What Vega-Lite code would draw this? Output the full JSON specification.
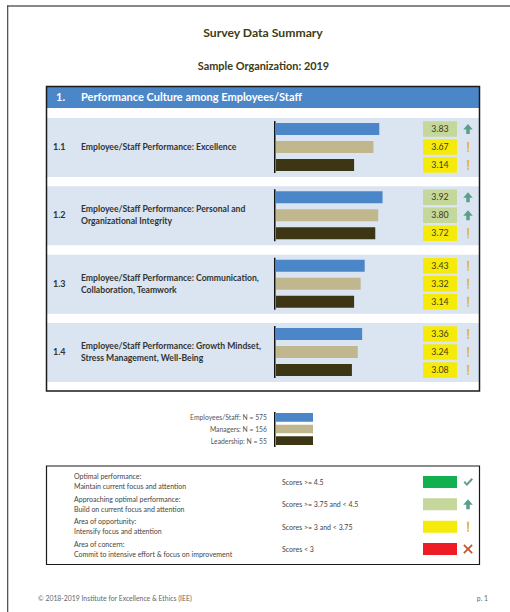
{
"$schema":"https://vega.github.io/schema/vega-lite/v6.json",
"width":510,"height":612,"padding":0,
"autosize":{"type":"fit","contains":"padding"},
"background":"white",
"config":{"view":{"stroke":null},"font":"Lato","axis":{"disable":true},"legend":{"disable":true}},
"datasets":{
"page":[{"page":"Survey Data Summary","org":"Sample Organization: 2019","section":"1.","sectionTitle":"Performance Culture among Employees/Staff","copy":"© 2018-2019 Institute for Excellence & Ethics (IEE)","pageNo":"p. 1"}],
"items":[
{"item":"1.1","label":"Employee/Staff Performance: Excellence","lines":1},
{"item":"1.2","label":"Employee/Staff Performance: Personal and\nOrganizational Integrity","lines":2},
{"item":"1.3","label":"Employee/Staff Performance: Communication,\nCollaboration, Teamwork","lines":2},
{"item":"1.4","label":"Employee/Staff Performance: Growth Mindset,\nStress Management, Well-Being","lines":2}],
"scores":[
{"item":"1.1","group":"Employees/Staff","score":3.83,"tier":"Approaching"},
{"item":"1.1","group":"Managers","score":3.67,"tier":"Opportunity"},
{"item":"1.1","group":"Leadership","score":3.14,"tier":"Opportunity"},
{"item":"1.2","group":"Employees/Staff","score":3.92,"tier":"Approaching"},
{"item":"1.2","group":"Managers","score":3.80,"tier":"Approaching"},
{"item":"1.2","group":"Leadership","score":3.72,"tier":"Opportunity"},
{"item":"1.3","group":"Employees/Staff","score":3.43,"tier":"Opportunity"},
{"item":"1.3","group":"Managers","score":3.32,"tier":"Opportunity"},
{"item":"1.3","group":"Leadership","score":3.14,"tier":"Opportunity"},
{"item":"1.4","group":"Employees/Staff","score":3.36,"tier":"Opportunity"},
{"item":"1.4","group":"Managers","score":3.24,"tier":"Opportunity"},
{"item":"1.4","group":"Leadership","score":3.08,"tier":"Opportunity"}],
"groups":[
{"group":"Employees/Staff","label":"Employees/Staff: N = 575"},
{"group":"Managers","label":"Managers: N = 156"},
{"group":"Leadership","label":"Leadership: N = 55"}],
"key":[
{"tier":"Optimal","text":"Optimal performance:\nMaintain current focus and attention","range":"Scores >= 4.5"},
{"tier":"Approaching","text":"Approaching optimal performance:\nBuild on current focus and attention","range":"Scores >= 3.75 and < 4.5"},
{"tier":"Opportunity","text":"Area of opportunity:\nIntensify focus and attention","range":"Scores >= 3 and < 3.75"},
{"tier":"Concern","text":"Area of concern:\nCommit to intensive effort & focus on improvement","range":"Scores < 3"}]
},
"resolve":{"scale":{"x":"independent","y":"independent","color":"independent","shape":"independent","yOffset":"independent"}},
"layer":[
{"data":{"name":"page"},"mark":{"type":"rect","color":"#888888"},
 "encoding":{"x":{"datum":"edge","type":"nominal","scale":{"type":"band","paddingInner":0,"paddingOuter":0,"range":[7,510]}},"y":{"datum":"edge","type":"nominal","scale":{"type":"band","paddingInner":0,"paddingOuter":0,"range":[5,7]}}}},
{"data":{"name":"page"},"mark":{"type":"rect","color":"#555555"},
 "encoding":{"x":{"datum":"edge","type":"nominal","scale":{"type":"band","paddingInner":0,"paddingOuter":0,"range":[7,8.3]}},"y":{"datum":"edge","type":"nominal","scale":{"type":"band","paddingInner":0,"paddingOuter":0,"range":[5.5,612]}}}},
{"data":{"name":"page"},"mark":{"type":"text","align":"center","baseline":"middle","fontWeight":"bold","fontSize":12.2,"color":"#3d3a14"},
 "encoding":{"text":{"field":"page"},"x":{"datum":"title","type":"nominal","scale":{"type":"point","range":[263,263]}},"y":{"datum":"title","type":"nominal","scale":{"type":"point","range":[33,33]}}}},
{"data":{"name":"page"},"mark":{"type":"text","align":"center","baseline":"middle","fontWeight":"bold","fontSize":10.9,"color":"#3d3a14"},
 "encoding":{"text":{"field":"org"},"x":{"datum":"org","type":"nominal","scale":{"type":"point","range":[263.5,263.5]}},"y":{"datum":"org","type":"nominal","scale":{"type":"point","range":[67,67]}}}},
{"data":{"name":"page"},"mark":{"type":"rect","color":"#4a86c8"},
 "encoding":{"x":{"datum":"header","type":"nominal","scale":{"type":"band","paddingInner":0,"paddingOuter":0,"range":[46.5,479.5]}},"y":{"datum":"header","type":"nominal","scale":{"type":"band","paddingInner":0,"paddingOuter":0,"range":[87,108]}}}},
{"data":{"name":"page"},"mark":{"type":"text","align":"left","baseline":"middle","fontWeight":"bold","fontSize":11,"color":"white"},
 "encoding":{"text":{"field":"section"},"x":{"datum":"n","type":"nominal","scale":{"type":"point","range":[56,56]}},"y":{"datum":"n","type":"nominal","scale":{"type":"point","range":[97.5,97.5]}}}},
{"data":{"name":"page"},"mark":{"type":"text","align":"left","baseline":"middle","fontWeight":"bold","fontSize":11,"color":"white"},
 "encoding":{"text":{"field":"sectionTitle"},"x":{"datum":"n","type":"nominal","scale":{"type":"point","range":[81,81]}},"y":{"datum":"n","type":"nominal","scale":{"type":"point","range":[97.5,97.5]}}}},
{"data":{"name":"items"},"mark":{"type":"rect","color":"#dae5f1"},
 "encoding":{"x":{"datum":"panel","type":"nominal","scale":{"type":"band","paddingInner":0,"paddingOuter":0,"range":[46.5,479.5]}},"y":{"field":"item","type":"nominal","scale":{"type":"band","paddingInner":0.136,"paddingOuter":0,"range":[118,382]}}}},
{"data":{"name":"page"},"mark":{"type":"rect","fillOpacity":0,"stroke":"#1a1a1a","strokeWidth":1.5},
 "encoding":{"x":{"datum":"frame","type":"nominal","scale":{"type":"band","paddingInner":0,"paddingOuter":0,"range":[46.5,479.5]}},"y":{"datum":"frame","type":"nominal","scale":{"type":"band","paddingInner":0,"paddingOuter":0,"range":[86.5,391]}}}},
{"data":{"name":"items"},"mark":{"type":"rect","color":"#111111"},
 "encoding":{"x":{"datum":"axis","type":"nominal","scale":{"type":"band","paddingInner":0,"paddingOuter":0,"range":[274,275.5]}},"y":{"field":"item","type":"nominal","scale":{"type":"band","paddingInner":0.24,"paddingOuter":0,"range":[121,378]}}}},
{"data":{"name":"scores"},"mark":{"type":"bar","height":12},
 "encoding":{"x":{"field":"score","type":"quantitative","scale":{"domain":[1,5],"range":[276,422],"nice":false,"zero":false}},"x2":{"datum":1},
 "y":{"field":"item","type":"nominal","scale":{"type":"band","paddingInner":0.21,"paddingOuter":0,"range":[120,379]}},
 "yOffset":{"field":"group","type":"nominal","scale":{"domain":["Employees/Staff","Managers","Leadership"],"paddingInner":0,"paddingOuter":0}},
 "color":{"field":"group","type":"nominal","scale":{"domain":["Employees/Staff","Managers","Leadership"],"range":["#4a86c8","#c0b78f","#3c3614"]}}}},
{"data":{"name":"scores"},"mark":{"type":"rect","height":15.5},
 "encoding":{"x":{"datum":"box","type":"nominal","scale":{"type":"band","paddingInner":0,"paddingOuter":0,"range":[423,457]}},
 "y":{"field":"item","type":"nominal","scale":{"type":"band","paddingInner":0.21,"paddingOuter":0,"range":[120,379]}},
 "yOffset":{"field":"group","type":"nominal","scale":{"domain":["Employees/Staff","Managers","Leadership"],"paddingInner":0,"paddingOuter":0}},
 "color":{"field":"tier","type":"nominal","scale":{"domain":["Optimal","Approaching","Opportunity","Concern"],"range":["#12b04f","#c5d79a","#f5ea0a","#ee1c25"]}}}},
{"data":{"name":"scores"},"mark":{"type":"text","align":"center","baseline":"middle","fontSize":8.8,"fontWeight":"normal","color":"#3d3d14"},
 "encoding":{"text":{"field":"score","type":"quantitative","format":".2f"},"x":{"datum":"t","type":"nominal","scale":{"type":"point","range":[440,440]}},
 "y":{"field":"item","type":"nominal","scale":{"type":"band","paddingInner":0.21,"paddingOuter":0,"range":[120,379]}},
 "yOffset":{"field":"group","type":"nominal","scale":{"domain":["Employees/Staff","Managers","Leadership"],"type":"band","paddingInner":0,"paddingOuter":0}}}},
{"data":{"name":"scores"},"mark":{"type":"point","filled":true,"size":100,"opacity":1},
 "encoding":{"x":{"datum":"i","type":"nominal","scale":{"type":"point","range":[468,468]}},
 "y":{"field":"item","type":"nominal","scale":{"type":"band","paddingInner":0.21,"paddingOuter":0,"range":[120,379]}},
 "yOffset":{"field":"group","type":"nominal","scale":{"domain":["Employees/Staff","Managers","Leadership"],"type":"band","paddingInner":0,"paddingOuter":0}},
 "shape":{"field":"tier","type":"nominal","scale":{"domain":["Optimal","Approaching","Opportunity","Concern"],"range":["M-0.9,0.1L-0.6,-0.2L-0.25,0.25L0.7,-0.8L1,-0.5L-0.2,0.8Z","M0,-1L0.95,0.1L0.35,0.1L0.35,1L-0.35,1L-0.35,0.1L-0.95,0.1Z","M-0.24,-1H0.24L0.16,0.5H-0.16Z M-0.18,0.62H0.18V1H-0.18Z","M-0.95,-0.7L-0.7,-0.95L0,-0.25L0.7,-0.95L0.95,-0.7L0.25,0L0.95,0.7L0.7,0.95L0,0.25L-0.7,0.95L-0.95,0.7L-0.25,0Z"]}},
 "color":{"field":"tier","type":"nominal","scale":{"domain":["Optimal","Approaching","Opportunity","Concern"],"range":["#5f9f85","#5a9f8a","#dfb86e","#c4552f"]}}}},
{"data":{"name":"items"},"mark":{"type":"text","align":"left","baseline":"middle","fontSize":9,"fontWeight":"bold","color":"#333333"},
 "encoding":{"text":{"field":"item"},"x":{"datum":"c","type":"nominal","scale":{"type":"point","range":[53,53]}},"y":{"field":"item","type":"nominal","scale":{"type":"band","paddingInner":0.21,"paddingOuter":0,"range":[120,379]}}}},
{"data":{"name":"items"},"transform":[{"filter":"datum.lines == 1"}],"mark":{"type":"text","align":"left","baseline":"middle","fontSize":8.65,"fontWeight":"bold","color":"#333333"},
 "encoding":{"text":{"field":"label"},"x":{"datum":"c","type":"nominal","scale":{"type":"point","range":[81,81]}},"y":{"field":"item","type":"nominal","scale":{"domain":["1.1","1.2","1.3","1.4"],"type":"band","paddingInner":0.21,"paddingOuter":0,"range":[120,379]}}}},
{"data":{"name":"items"},"transform":[{"filter":"datum.lines == 2"}],"mark":{"type":"text","align":"left","baseline":"middle","fontSize":8.65,"fontWeight":"bold","color":"#333333","lineBreak":"\n","lineHeight":12},
 "encoding":{"text":{"field":"label"},"x":{"datum":"c","type":"nominal","scale":{"type":"point","range":[81,81]}},"y":{"field":"item","type":"nominal","scale":{"domain":["1.1","1.2","1.3","1.4"],"type":"band","paddingInner":0.21,"paddingOuter":0,"range":[114,373]}}}},
{"data":{"name":"groups"},"mark":{"type":"text","align":"right","baseline":"middle","fontSize":6.8,"color":"#555555"},
 "encoding":{"text":{"field":"label"},"x":{"datum":"c","type":"nominal","scale":{"type":"point","range":[267,267]}},"y":{"field":"group","type":"nominal","sort":null,"scale":{"type":"band","paddingInner":0.25,"paddingOuter":0,"range":[414,446]}}}},
{"data":{"name":"page"},"mark":{"type":"rect","color":"#111111"},
 "encoding":{"x":{"datum":"a","type":"nominal","scale":{"type":"band","paddingInner":0,"paddingOuter":0,"range":[274,275.5]}},"y":{"datum":"a","type":"nominal","scale":{"type":"band","paddingInner":0,"paddingOuter":0,"range":[412,447]}}}},
{"data":{"name":"groups"},"mark":{"type":"rect"},
 "encoding":{"x":{"datum":"b","type":"nominal","scale":{"type":"band","paddingInner":0,"paddingOuter":0,"range":[276,313]}},"y":{"field":"group","type":"nominal","sort":null,"scale":{"type":"band","paddingInner":0.25,"paddingOuter":0,"range":[413,445]}},
 "color":{"field":"group","type":"nominal","scale":{"domain":["Employees/Staff","Managers","Leadership"],"range":["#4a86c8","#c0b78f","#3c3614"]}}}},
{"data":{"name":"page"},"mark":{"type":"rect","fillOpacity":0,"stroke":"#1a1a1a","strokeWidth":1.2},
 "encoding":{"x":{"datum":"f","type":"nominal","scale":{"type":"band","paddingInner":0,"paddingOuter":0,"range":[46.5,479.5]}},"y":{"datum":"f","type":"nominal","scale":{"type":"band","paddingInner":0,"paddingOuter":0,"range":[466,564.5]}}}},
{"data":{"name":"key"},"mark":{"type":"text","align":"left","baseline":"middle","fontSize":7,"color":"#444444","lineBreak":"\n","lineHeight":10},
 "encoding":{"text":{"field":"text"},"x":{"datum":"c","type":"nominal","scale":{"type":"point","range":[74,74]}},"y":{"field":"tier","type":"nominal","sort":null,"scale":{"type":"band","paddingInner":0.4627,"paddingOuter":0,"range":[471.5,550.5]}}}},
{"data":{"name":"key"},"mark":{"type":"text","align":"left","baseline":"middle","fontSize":7,"color":"#444444"},
 "encoding":{"text":{"field":"range"},"x":{"datum":"c","type":"nominal","scale":{"type":"point","range":[282,282]}},"y":{"field":"tier","type":"nominal","sort":null,"scale":{"type":"band","paddingInner":0.4627,"paddingOuter":0,"range":[477,556]}}}},
{"data":{"name":"key"},"mark":{"type":"rect"},
 "encoding":{"x":{"datum":"b","type":"nominal","scale":{"type":"band","paddingInner":0,"paddingOuter":0,"range":[423,457]}},"y":{"field":"tier","type":"nominal","sort":null,"scale":{"type":"band","paddingInner":0.4627,"paddingOuter":0,"range":[476,555]}},
 "color":{"field":"tier","type":"nominal","scale":{"domain":["Optimal","Approaching","Opportunity","Concern"],"range":["#12b04f","#c5d79a","#f5ea0a","#ee1c25"]}}}},
{"data":{"name":"key"},"mark":{"type":"point","filled":true,"size":100,"opacity":1},
 "encoding":{"x":{"datum":"i","type":"nominal","scale":{"type":"point","range":[468,468]}},"y":{"field":"tier","type":"nominal","sort":null,"scale":{"type":"band","paddingInner":0.4627,"paddingOuter":0,"range":[476,555]}},
 "shape":{"field":"tier","type":"nominal","scale":{"domain":["Optimal","Approaching","Opportunity","Concern"],"range":["M-0.9,0.1L-0.6,-0.2L-0.25,0.25L0.7,-0.8L1,-0.5L-0.2,0.8Z","M0,-1L0.95,0.1L0.35,0.1L0.35,1L-0.35,1L-0.35,0.1L-0.95,0.1Z","M-0.24,-1H0.24L0.16,0.5H-0.16Z M-0.18,0.62H0.18V1H-0.18Z","M-0.95,-0.7L-0.7,-0.95L0,-0.25L0.7,-0.95L0.95,-0.7L0.25,0L0.95,0.7L0.7,0.95L0,0.25L-0.7,0.95L-0.95,0.7L-0.25,0Z"]}},
 "color":{"field":"tier","type":"nominal","scale":{"domain":["Optimal","Approaching","Opportunity","Concern"],"range":["#5f9f85","#5a9f8a","#dfb86e","#c4552f"]}}}},
{"data":{"name":"page"},"mark":{"type":"text","align":"left","baseline":"middle","fontSize":6.85,"color":"#666666"},
 "encoding":{"text":{"field":"copy"},"x":{"datum":"c","type":"nominal","scale":{"type":"point","range":[38,38]}},"y":{"datum":"c","type":"nominal","scale":{"type":"point","range":[598.5,598.5]}}}},
{"data":{"name":"page"},"mark":{"type":"text","align":"right","baseline":"middle","fontSize":6.85,"color":"#666666"},
 "encoding":{"text":{"field":"pageNo"},"x":{"datum":"c","type":"nominal","scale":{"type":"point","range":[488,488]}},"y":{"datum":"c","type":"nominal","scale":{"type":"point","range":[598.5,598.5]}}}}
]
}
